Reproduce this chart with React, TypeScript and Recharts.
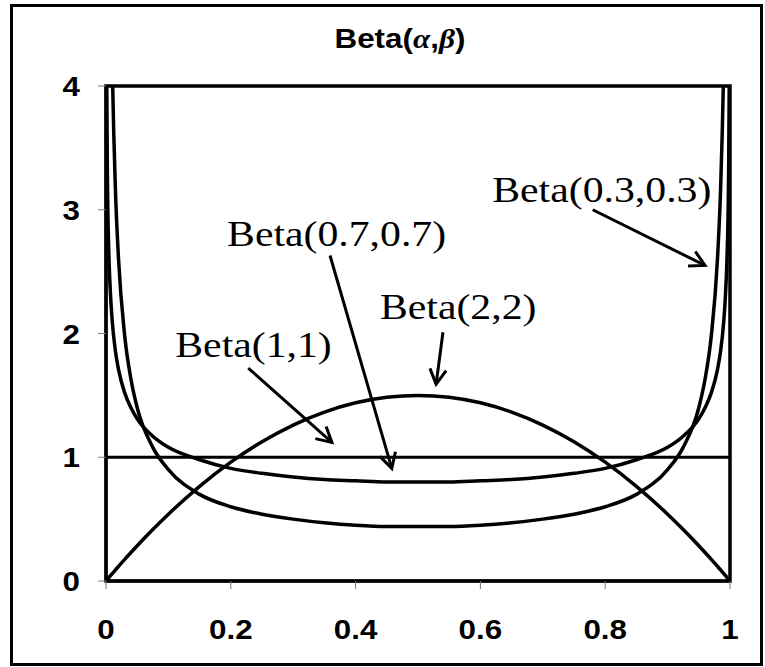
import {
  Line,
  LineChart,
  ReferenceArea,
  ReferenceDot,
  ReferenceLine,
  XAxis,
  YAxis,
} from 'recharts'

// x positions shared by the three U / hump shaped densities
const xValues = [
  0, 0.0005, 0.001, 0.0025, 0.005, 0.0075, 0.01, 0.015, 0.02, 0.03, 0.04, 0.05, 0.075, 0.1, 0.15,
  0.2, 0.25, 0.3, 0.35, 0.4, 0.45, 0.5, 0.55, 0.6, 0.65, 0.7, 0.75, 0.8, 0.85, 0.9, 0.925, 0.95,
  0.96, 0.97, 0.98, 0.985, 0.99, 0.9925, 0.995, 0.9975, 0.999, 0.9995, 1,
]

const beta03 = [
  null, 34, 21, 11.05, 6.81, 5.14, 4.21, 3.18, 2.61, 1.98, 1.63, 1.4, 1.08, 0.9, 0.7, 0.6, 0.54,
  0.5, 0.47, 0.45, 0.44, 0.44, 0.44, 0.45, 0.47, 0.5, 0.54, 0.6, 0.7, 0.9, 1.08, 1.4, 1.63, 1.98,
  2.61, 3.18, 4.21, 5.14, 6.81, 11.05, 21, 34, null,
]

const beta07 = [
  null, 5.15, 4.18, 3.18, 2.58, 2.29, 2.1, 1.86, 1.71, 1.52, 1.4, 1.31, 1.17, 1.08, 0.98, 0.91,
  0.87, 0.84, 0.82, 0.81, 0.8, 0.8, 0.8, 0.81, 0.82, 0.84, 0.87, 0.91, 0.98, 1.08, 1.17, 1.31, 1.4,
  1.52, 1.71, 1.86, 2.1, 2.29, 2.58, 3.18, 4.18, 5.15, null,
]

const beta22 = [
  0, 0.003, 0.006, 0.015, 0.03, 0.045, 0.059, 0.089, 0.118, 0.175, 0.23, 0.285, 0.416, 0.54, 0.765,
  0.96, 1.125, 1.26, 1.365, 1.44, 1.485, 1.5, 1.485, 1.44, 1.365, 1.26, 1.125, 0.96, 0.765, 0.54,
  0.416, 0.285, 0.23, 0.175, 0.118, 0.089, 0.059, 0.045, 0.03, 0.015, 0.006, 0.003, 0,
]

// Beta(1,1) is flat
const uniformX = [0, 1]
const uniformY = [1, 1]

const xTicks = [0, 0.2, 0.4, 0.6, 0.8, 1]
const yTicks = [0, 1, 2, 3, 4]

// annotations, in data units
const labelTexts = ['Beta(0.3,0.3)', 'Beta(0.7,0.7)', 'Beta(2,2)', 'Beta(1,1)']
const labelX = [0.619, 0.194, 0.439, 0.111]
const labelY = [3.06, 2.71, 2.12, 1.81]

const arrowFromX = [0.78, 0.359, 0.54, 0.228]
const arrowFromY = [3.0, 2.63, 2.01, 1.72]
const arrowToX = [0.96, 0.458, 0.529, 0.362]
const arrowToY = [2.55, 0.91, 1.59, 1.12]

const densityData = xValues.map((x, i) => ({
  x,
  b03: beta03[i],
  b07: beta07[i],
  b22: beta22[i],
}))

const uniformData = uniformX.map((x, i) => ({ x, b11: uniformY[i] }))

const sansBold = "'Liberation Sans', Arial, sans-serif"
const serif = "'Liberation Serif', 'Times New Roman', serif"

function XTick({ x, y, payload }: any) {
  return (
    <g transform={`translate(${x},${y}) scale(1.12,1)`}>
      <text x={0} y={0} dy="0.71em" textAnchor="middle" fontFamily={sansBold} fontWeight="bold" fontSize={28} fill="#000">
        {payload.value}
      </text>
    </g>
  )
}

function YTick({ x, y, payload }: any) {
  return (
    <g transform={`translate(${x},${y}) scale(1.12,1)`}>
      <text x={0} y={0} dy="0.36em" textAnchor="end" fontFamily={sansBold} fontWeight="bold" fontSize={28} fill="#000">
        {payload.value}
      </text>
    </g>
  )
}

function arrowShape(props: any) {
  const { x1, y1, x2, y2 } = props
  const angle = Math.atan2(y2 - y1, x2 - x1)
  const len = 17
  const spread = 0.5
  const hx1 = x2 - len * Math.cos(angle - spread)
  const hy1 = y2 - len * Math.sin(angle - spread)
  const hx2 = x2 - len * Math.cos(angle + spread)
  const hy2 = y2 - len * Math.sin(angle + spread)
  return (
    <g>
      <line x1={x1} y1={y1} x2={x2} y2={y2} stroke="#000" strokeWidth={3} />
      <polyline points={`${hx1},${hy1} ${x2},${y2} ${hx2},${hy2}`} fill="none" stroke="#000" strokeWidth={3} />
    </g>
  )
}

const labelShape = (text: string) => (p: any) => (
  <g transform={`translate(${p.cx},${p.cy}) scale(1.16,1)`}>
    <text x={0} y={0} fontFamily={serif} fontSize={36} fill="#000">
      {text}
    </text>
  </g>
)

export default function App() {
  return (
    <div style={{ position: 'absolute', left: 0, top: 0, width: 765, height: 667, background: '#fff' }}>
      <div
        style={{
          position: 'absolute',
          left: 10,
          top: 4,
          width: 753,
          height: 662,
          border: '3px solid #000',
          boxSizing: 'border-box',
        }}
      />
      <svg width={765} height={60} style={{ position: 'absolute', left: 0, top: 0 }}>
        <g transform="translate(400,48) scale(1.12,1)">
          <text x={0} y={0} textAnchor="middle" fontFamily={sansBold} fontWeight="bold" fontSize={28} fill="#000">
            Beta(<tspan fontStyle="italic" fontFamily={serif}>α</tspan>,<tspan fontStyle="italic" fontFamily={serif}>β</tspan>)
          </text>
        </g>
      </svg>
      <div style={{ position: 'absolute', left: 0, top: 0 }}>
        <LineChart width={765} height={667} data={densityData} margin={{ top: 86, right: 35, bottom: 26, left: 46 }}>
          <XAxis
            dataKey="x"
            type="number"
            domain={[0, 1]}
            ticks={xTicks}
            height={60}
            tick={<XTick />}
            tickSize={8}
            tickMargin={30}
            axisLine={{ stroke: '#000', strokeWidth: 3 }}
            tickLine={{ stroke: '#777', strokeWidth: 1 }}
          />
          <YAxis
            type="number"
            domain={[0, 4]}
            ticks={yTicks}
            allowDataOverflow
            width={60}
            tick={<YTick />}
            tickSize={8}
            tickMargin={18}
            axisLine={{ stroke: '#000', strokeWidth: 3 }}
            tickLine={{ stroke: '#777', strokeWidth: 1 }}
          />
          <ReferenceArea x1={0} x2={1} y1={0} y2={4} fill="none" stroke="#000" strokeWidth={3.5} />
          <Line type="monotone" dataKey="b03" stroke="#000" strokeWidth={3.5} dot={false} isAnimationActive={false} />
          <Line type="monotone" dataKey="b07" stroke="#000" strokeWidth={3.5} dot={false} isAnimationActive={false} />
          <Line type="monotone" dataKey="b22" stroke="#000" strokeWidth={3.5} dot={false} isAnimationActive={false} />
          <Line
            data={uniformData}
            type="linear"
            dataKey="b11"
            stroke="#000"
            strokeWidth={3}
            dot={false}
            isAnimationActive={false}
          />
          {labelTexts.map((t, i) => (
            <ReferenceDot key={t} x={labelX[i]} y={labelY[i]} r={0} ifOverflow="visible" shape={labelShape(t)} />
          ))}
          {labelTexts.map((t, i) => (
            <ReferenceLine
              key={'arrow-' + t}
              segment={[
                { x: arrowFromX[i], y: arrowFromY[i] },
                { x: arrowToX[i], y: arrowToY[i] },
              ]}
              ifOverflow="visible"
              shape={arrowShape}
            />
          ))}
        </LineChart>
      </div>
    </div>
  )
}
